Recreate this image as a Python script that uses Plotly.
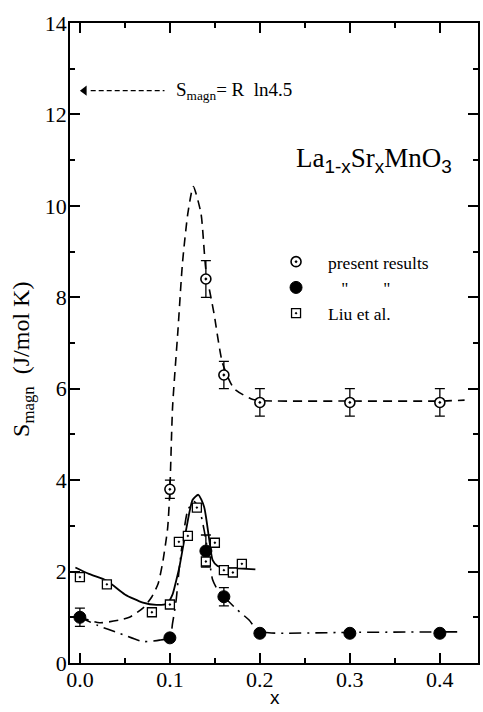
import plotly.graph_objects as go

# ---- measured entropy values ----
x_present = [0.10, 0.14, 0.16, 0.20, 0.30, 0.40]
s_present = [3.8, 8.4, 6.3, 5.7, 5.7, 5.7]
err_present = [0.2, 0.4, 0.3, 0.3, 0.3, 0.3]

x_filled = [0.0, 0.10, 0.14, 0.16, 0.20, 0.30, 0.40]
s_filled = [1.0, 0.55, 2.45, 1.45, 0.65, 0.65, 0.65]
err_filled = [0.2, 0.0, 0.35, 0.2, 0.0, 0.0, 0.0]

x_liu = [0.0, 0.03, 0.08, 0.10, 0.11, 0.12, 0.13, 0.14, 0.15, 0.16, 0.17, 0.18]
s_liu = [1.88, 1.72, 1.11, 1.28, 2.65, 2.78, 3.40, 2.22, 2.63, 2.03, 1.98, 2.17]

# ---- guide curves through each data set ----
x_dash = [0.0, 0.022, 0.044, 0.055, 0.07, 0.08, 0.087, 0.092, 0.0975, 0.1, 0.103,
          0.109, 0.114, 0.12, 0.126, 0.1345, 0.14, 0.149, 0.1585, 0.171, 0.19,
          0.2, 0.3, 0.4, 0.4275]
s_dash = [1.0, 0.88, 0.94, 1.0, 1.2, 1.45, 1.74, 2.2, 2.95, 3.8, 5.6,
          7.29, 8.75, 9.84, 10.42, 9.84, 8.6, 7.65, 6.56, 6.01, 5.78,
          5.74, 5.73, 5.73, 5.75]

x_dashdot = [0.0, 0.02, 0.044, 0.07, 0.0885, 0.1, 0.103, 0.107, 0.1106, 0.12,
             0.127, 0.133, 0.138, 0.1438, 0.1475, 0.153, 0.16, 0.175, 0.188,
             0.197, 0.21, 0.3, 0.4, 0.422]
s_dashdot = [1.0, 0.82, 0.65, 0.47, 0.5, 0.56, 0.87, 1.38, 2.1, 3.35,
             3.53, 3.35, 2.91, 2.25, 1.82, 1.6, 1.45, 1.16, 0.94,
             0.72, 0.66, 0.67, 0.68, 0.68]

x_solid = [-0.005, 0.01, 0.03, 0.05, 0.07, 0.085, 0.097, 0.103, 0.107, 0.1106,
           0.118, 0.1253, 0.1316, 0.138, 0.1438, 0.1475, 0.153, 0.16, 0.175, 0.195]
s_solid = [2.09, 1.95, 1.8, 1.5, 1.32, 1.27, 1.3, 1.5, 1.8, 2.1,
           2.91, 3.57, 3.68, 3.42, 2.69, 2.25, 2.12, 2.08, 2.07, 2.05]

# ---- axis ticks ----
x_major = [0.0, 0.1, 0.2, 0.3, 0.4]
x_minor = [0.05, 0.15, 0.25, 0.35]
y_major = [0, 2, 4, 6, 8, 10, 12, 14]
y_minor = [1, 3, 5, 7, 9, 11, 13]

# reference level R ln 4.5
s_ref = 12.52

SERIF = "Liberation Serif"
SANS = "Liberation Sans"
NB = "\u00a0"

fig = go.Figure()

fig.add_trace(go.Scatter(x=x_dash, y=s_dash, mode="lines", showlegend=False,
                         line=dict(color="black", width=1.6, dash="9px,6px",
                                   shape="spline", smoothing=0.6)))
fig.add_trace(go.Scatter(x=x_dashdot, y=s_dashdot, mode="lines", showlegend=False,
                         line=dict(color="black", width=1.6, dash="12px,6px,2px,6px",
                                   shape="spline", smoothing=0.6)))
fig.add_trace(go.Scatter(x=x_solid, y=s_solid, mode="lines", showlegend=False,
                         line=dict(color="black", width=1.8,
                                   shape="spline", smoothing=0.6)))

errstyle = dict(type="data", color="black", thickness=1.3, width=5)

fig.add_trace(go.Scatter(
    x=x_present, y=s_present, mode="markers", name="present results",
    error_y=dict(array=err_present, **errstyle),
    marker=dict(symbol="circle-dot", size=10, color="white",
                line=dict(color="black", width=1.6))))
fig.add_trace(go.Scatter(
    x=x_filled, y=s_filled, mode="markers",
    name="\u200b" + NB * 3 + "\"" + NB * 8 + "\"",
    error_y=dict(array=err_filled, **errstyle),
    marker=dict(symbol="circle", size=12, color="black",
                line=dict(color="black", width=1))))
fig.add_trace(go.Scatter(
    x=x_liu, y=s_liu, mode="markers", name="Liu et al.",
    marker=dict(symbol="square-dot", size=9, color="white",
                line=dict(color="black", width=1.3))))

# arrow marking the saturation value
fig.add_shape(type="line", x0=0.012, x1=0.094, y0=s_ref, y1=s_ref,
              line=dict(color="black", width=1.2, dash="5px,3px"))
fig.add_trace(go.Scatter(x=[0.005], y=[s_ref], mode="markers", showlegend=False,
                         marker=dict(symbol="triangle-left", size=9, color="black")))

fig.add_annotation(x=0.256, y=0.893, xref="paper", yref="paper",
                   xanchor="left", yanchor="middle", showarrow=False,
                   text="S<sub>magn</sub>= R  ln4.5",
                   font=dict(family=SERIF, size=19, color="black"))

sub_sans = "<sub><span style='font-family:Liberation Sans'>{}</span></sub>"
fig.add_annotation(x=0.746, y=0.786, xref="paper", yref="paper",
                   xanchor="center", yanchor="middle", showarrow=False,
                   text=("La" + sub_sans.format("1-x") + "Sr" + sub_sans.format("x")
                         + "MnO" + sub_sans.format("3")),
                   font=dict(family=SERIF, size=27, color="black"))

# axis titles
fig.add_annotation(x=0.502, y=-0.0735, xref="paper", yref="paper",
                   xanchor="center", yanchor="bottom", showarrow=False,
                   text="x", font=dict(family=SANS, size=19, color="black"))
fig.add_annotation(x=-0.117, y=0.474, xref="paper", yref="paper",
                   xanchor="center", yanchor="middle", showarrow=False,
                   textangle=-90, text="S<sub>magn</sub>  (J/mol K)",
                   font=dict(family=SERIF, size=24, color="black"))

axis_common = dict(showline=True, linewidth=1.5, linecolor="black", mirror="ticks",
                   ticks="inside", ticklen=10, tickwidth=1.5, tickcolor="black",
                   showgrid=False, zeroline=False,
                   tickfont=dict(family=SERIF, size=22, color="black"))

fig.update_xaxes(range=[-0.011, 0.4424], tickvals=x_major,
                 ticktext=[f"{v:.1f}" for v in x_major],
                 ticklabelstandoff=-4,
                 minor=dict(tickvals=x_minor, ticks="inside", ticklen=5,
                            tickwidth=1.5, tickcolor="black"),
                 **axis_common)
fig.update_yaxes(range=[0, 14], tickvals=y_major,
                 ticklabelstandoff=-3,
                 minor=dict(tickvals=y_minor, ticks="inside", ticklen=5,
                            tickwidth=1.5, tickcolor="black"),
                 **axis_common)

fig.update_layout(
    width=483, height=712,
    margin=dict(l=70, r=3, t=23, b=49),
    plot_bgcolor="white", paper_bgcolor="white",
    font=dict(family=SERIF, color="black"),
    legend=dict(x=0.4756, y=0.655, xanchor="left", yanchor="top",
                itemwidth=54,
                bgcolor="rgba(0,0,0,0)", borderwidth=0,
                font=dict(family=SERIF, size=17.5, color="black"),
                tracegroupgap=0),
)

fig.write_html("out.html")
